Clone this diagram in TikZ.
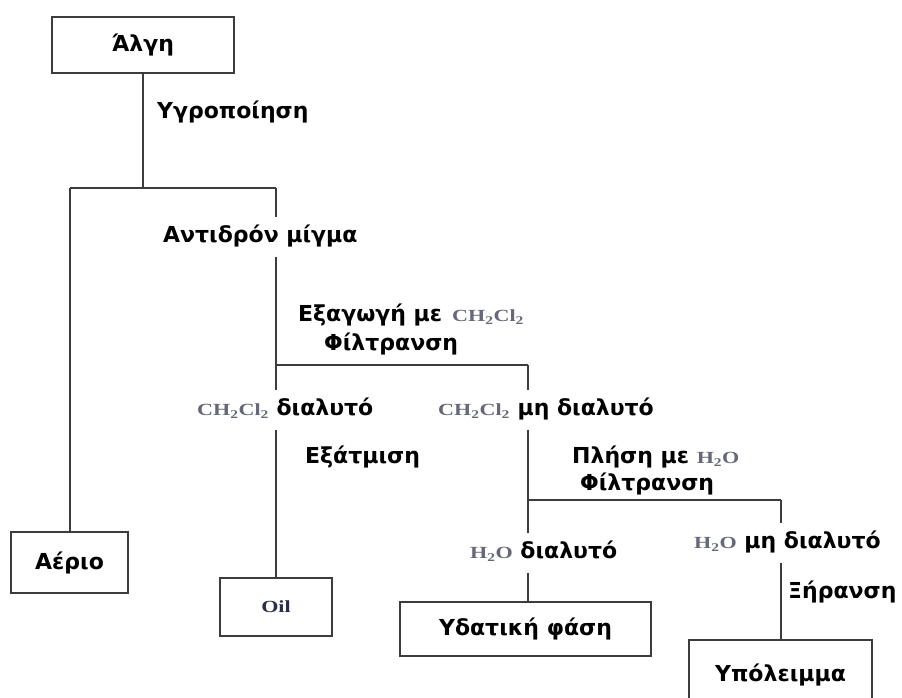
\documentclass[tikz,border=0pt]{standalone}
\usepackage{fontspec}
\setmainfont{DejaVu Sans}
\newfontfamily\chemfont[FakeStretch=1.3]{Liberation Serif}
\usetikzlibrary{calc}

\definecolor{linegray}{HTML}{3C3C3C}
\definecolor{chemgray}{HTML}{666878}
\definecolor{oilblue}{HTML}{2A2E48}

\newcommand\grtext{\fontsize{22}{24}\selectfont\bfseries}
\newcommand\cform[1]{{\chemfont\fontsize{17}{19}\selectfont\color{chemgray}#1}}
\newcommand\dcm{\cform{CH\textsubscript{2}Cl\textsubscript{2}}}
\newcommand\water{\cform{H\textsubscript{2}O}}

\tikzset{
  box/.style={draw=linegray, line width=2pt, fill=white, inner sep=0pt, font=\grtext},
  lbl/.style={inner sep=0pt, anchor=west, font=\grtext, text height=16pt, text depth=5pt},
  gaplbl/.style={lbl, inner ysep=9pt},
  conn/.style={draw=linegray, line width=2pt},
}

\begin{document}
\begin{tikzpicture}[x=1pt, y=-1pt]
\path[use as bounding box, clip] (0,0) rectangle (902,698);
\fill[white] (0,0) rectangle (902,698);

% boxes
\node[box, minimum width=182pt, minimum height=56pt] (algae) at (143,45) {Άλγη};
\node[box, minimum width=117pt, minimum height=61pt] (gas) at (69.5,562.5) {Αέριο};
\node[box, minimum width=112pt, minimum height=58pt, font={\chemfont\fontsize{17}{19}\selectfont\bfseries\color{oilblue}}] (oil) at (276,607) {Oil};
\node[box, minimum width=251pt, minimum height=54pt] (aqueous) at (525.5,629) {Υδατική φάση};
\node[box, minimum width=183pt, minimum height=80pt, text depth=14pt] (residue) at (780.5,680) {Υπόλειμμα};

% step and phase labels
\node[lbl] (liquef) at (157,113) {Υγροποίηση};
\node[gaplbl] (mix) at (163,237) {Αντιδρόν μίγμα};
\node[lbl] (extract) at (298,316) {Εξαγωγή με\hspace{10pt}\dcm};
\node[lbl] (filt1) at (324,345) {Φίλτρανση};
\node[gaplbl] (dcmsol) at (197,410) {\dcm\ διαλυτό};
\node[gaplbl] (dcmins) at (438,410) {\dcm\ μη διαλυτό};
\node[lbl] (evap) at (305,458) {Εξάτμιση};
\node[lbl] (wash) at (572,458) {Πλήση με \water};
\node[lbl] (filt2) at (580,485) {Φίλτρανση};
\node[gaplbl] (h2osol) at (470,553) {\water\ διαλυτό};
\node[gaplbl] (h2oins) at (694,543) {\water\ μη διαλυτό};
\node[lbl] (dry) at (788,593) {Ξήρανση};

% branch points
\coordinate (j1) at (143,188);
\coordinate (j1l) at (70,188);
\coordinate (j1r) at (276,188);
\coordinate (j2) at (276,365);
\coordinate (j2r) at (528,365);
\coordinate (j3) at (528,500);
\coordinate (j3r) at (781,500);

% connectors
\draw[conn] (algae.south) -- (j1);
\draw[conn] (j1l) -- (j1r);
\draw[conn] (j1l) -- (j1l |- gas.north);
\draw[conn] (j1r) -- (j1r |- mix.north);
\draw[conn] (j1r |- mix.south) -- (j2);
\draw[conn] (j2) -- (j2r);
\draw[conn] (j2) -- (j2 |- dcmsol.north);
\draw[conn] (j2 |- dcmsol.south) -- (oil.north);
\draw[conn] (j2r) -- (j2r |- dcmins.north);
\draw[conn] (j2r |- dcmins.south) -- (j3);
\draw[conn] (j3) -- (j3r);
\draw[conn] (j3) -- (j3 |- h2osol.north);
\draw[conn] (j3 |- h2osol.south) -- (j3 |- aqueous.north);
\draw[conn] (j3r) -- (j3r |- h2oins.north);
\draw[conn] (j3r |- h2oins.south) -- (j3r |- residue.north);
\end{tikzpicture}
\end{document}
